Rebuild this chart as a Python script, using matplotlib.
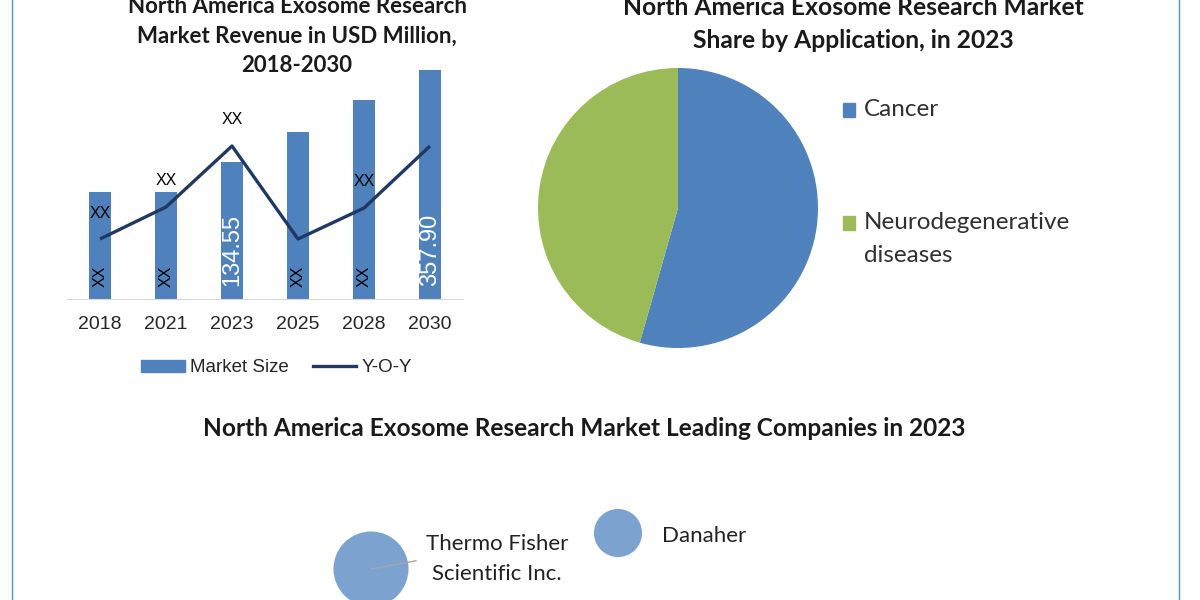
import matplotlib
matplotlib.use('Agg')
import matplotlib.pyplot as plt
from matplotlib.lines import Line2D
from matplotlib.patches import Patch, Rectangle

# bar / line chart data
years = ['2018', '2021', '2023', '2025', '2028', '2030']
market_size = [167.2, 167.2, 214.1, 261.0, 311.0, 357.9]
bar_labels = ['XX', 'XX', '134.55', 'XX', 'XX', '357.90']
yoy = [6.0, 9.2, 15.3, 6.0, 9.1, 15.3]
yoy_labels = ['XX', 'XX', 'XX', '', 'XX', '']

# pie data
applications = ['Cancer', 'Neurodegenerative\ndiseases']
app_share = [54.4, 45.6]

# leading companies bubbles
companies = ['Thermo Fisher\nScientific Inc.', 'Danaher']
comp_x = [3.71, 6.18]
comp_y = [0.31, 0.67]
comp_size = [36.5, 15.0]

BLUE = '#4F81BD'
GREEN = '#9BBB59'
NAVY = '#1F3864'
BUBBLE = '#7CA3D0'
TXT = '#222222'
TITLE_FONT = ['Lato', 'DejaVu Sans']

plt.rcParams['font.family'] = ['Liberation Sans', 'DejaVu Sans']

W, H = 1200, 600
fig = plt.figure(figsize=(12, 6), dpi=100)


def box(x0, y0, x1, y1):
    # pixel box measured from the top-left -> figure rect
    return [x0 / W, 1 - y1 / H, (x1 - x0) / W, (y1 - y0) / H]


# ---- bar + Y-O-Y line ----
ax = fig.add_axes(box(67, 60, 463, 299))
xs = list(range(len(years)))
ax.bar(xs, market_size, width=0.33, color=BLUE, zorder=1)
ax.set_xlim(-0.5, 5.5)
ax.set_ylim(0, 373.5)
ax.set_xticks(xs)
ax.set_xticklabels(years, fontsize=14, color='#262626')
ax.set_yticks([])
ax.tick_params(axis='x', length=0, pad=12)
for s in ['top', 'right', 'left']:
    ax.spines[s].set_visible(False)
ax.spines['bottom'].set_color('#D9D9D9')

for i, lab in enumerate(bar_labels):
    if lab == 'XX':
        ax.annotate(lab, (i, 0), xytext=(0, 12), textcoords='offset pixels',
                    rotation=90, ha='center', va='bottom', fontsize=11.5, color='black', zorder=3)
    else:
        ax.annotate(lab, (i, 0), xytext=(0, 13), textcoords='offset pixels',
                    rotation=90, ha='center', va='bottom', fontsize=17,
                    color='white', zorder=3)

ax2 = ax.twinx()
ax2.plot(xs, yoy, color=NAVY, lw=2.4, solid_capstyle='butt')
ax2.set_ylim(0, 23.9)
ax2.axis('off')
for i, lab in enumerate(yoy_labels):
    if lab:
        ax2.annotate(lab, (i, yoy[i]), xytext=(0, 26), textcoords='offset pixels',
                     ha='center', va='center', fontsize=11.5, color='black')

handles = [Patch(color=BLUE, label='Market Size'), Line2D([], [], color=NAVY, lw=2.4, label='Y-O-Y')]
ax.legend(handles=handles, loc='center', bbox_to_anchor=(277 / W, 1 - 368 / H),
          bbox_transform=fig.transFigure, ncol=2, frameon=False, fontsize=13.5,
          handlelength=2.3, handleheight=0.6, columnspacing=1.3, handletextpad=0.3,
          labelcolor='#262626')

# the reference crops the top of both upper titles at the image edge
fig.text(297 / W, 1 - 36 / H, 'North America Exosome Research\nMarket Revenue in USD Million,\n2018-2030',
         ha='center', va='center', fontsize=16, fontweight='bold', family=TITLE_FONT,
         linespacing=1.5, color='#1a1a1a')

# ---- pie ----
pax = fig.add_axes(box(538, 68, 818, 348))
pax.pie(app_share, colors=[BLUE, GREEN], startangle=90, counterclock=False, radius=1)
pax.set_xlim(-1, 1)
pax.set_ylim(-1, 1)

fig.text(853 / W, 1 - 24 / H, 'North America Exosome Research Market\nShare by Application, in 2023',
         ha='center', va='center', fontsize=17.7, fontweight='bold', family=TITLE_FONT,
         linespacing=1.5, color='#1a1a1a')

leg_y = [109, 239]
sq_y = [110, 223]
for lab, col, ty, sy in zip(applications, [BLUE, GREEN], leg_y, sq_y):
    fig.add_artist(Rectangle(((849 - 6) / W, 1 - (sy + 7) / H), 12 / W, 14 / H,
                             transform=fig.transFigure, color=col))
    fig.text(864 / W, 1 - ty / H, lab, ha='left', va='center', fontsize=17.5,
             family=TITLE_FONT, color='#303030', linespacing=1.7)

# ---- leading companies ----
fig.text(584 / W, 1 - 428 / H, 'North America Exosome Research Market Leading Companies in 2023',
         ha='center', va='center', fontsize=17.6, fontweight='bold', family=TITLE_FONT, color='#1a1a1a')

bax = fig.add_axes(box(0, 450, 1200, 600))
bax.set_xlim(0, 12)
bax.set_ylim(0, 1.5)
bax.axis('off')
bax.scatter(comp_x, comp_y, s=[v * 80 for v in comp_size], color=BUBBLE, edgecolor='none', clip_on=False)
bax.annotate(companies[0], (comp_x[0], comp_y[0]), xytext=(126, 10), textcoords='offset pixels',
             ha='center', va='center', multialignment='center', fontsize=16, family=TITLE_FONT,
             color=TXT, linespacing=1.6,
             arrowprops=dict(arrowstyle='-', color='#A6A6A6', lw=1, shrinkA=5, shrinkB=0, relpos=(0, 0.5)))
bax.annotate(companies[1], (comp_x[1], comp_y[1]), xytext=(44, -3), textcoords='offset pixels',
             ha='left', va='center', fontsize=16, family=TITLE_FONT, color=TXT)

# side frame lines
for px in [12, 1179]:
    fig.add_artist(Line2D([px / W, px / W], [0, 1], transform=fig.transFigure, color='#5B8BD0', lw=1))

fig.savefig('out.png', dpi=100)
